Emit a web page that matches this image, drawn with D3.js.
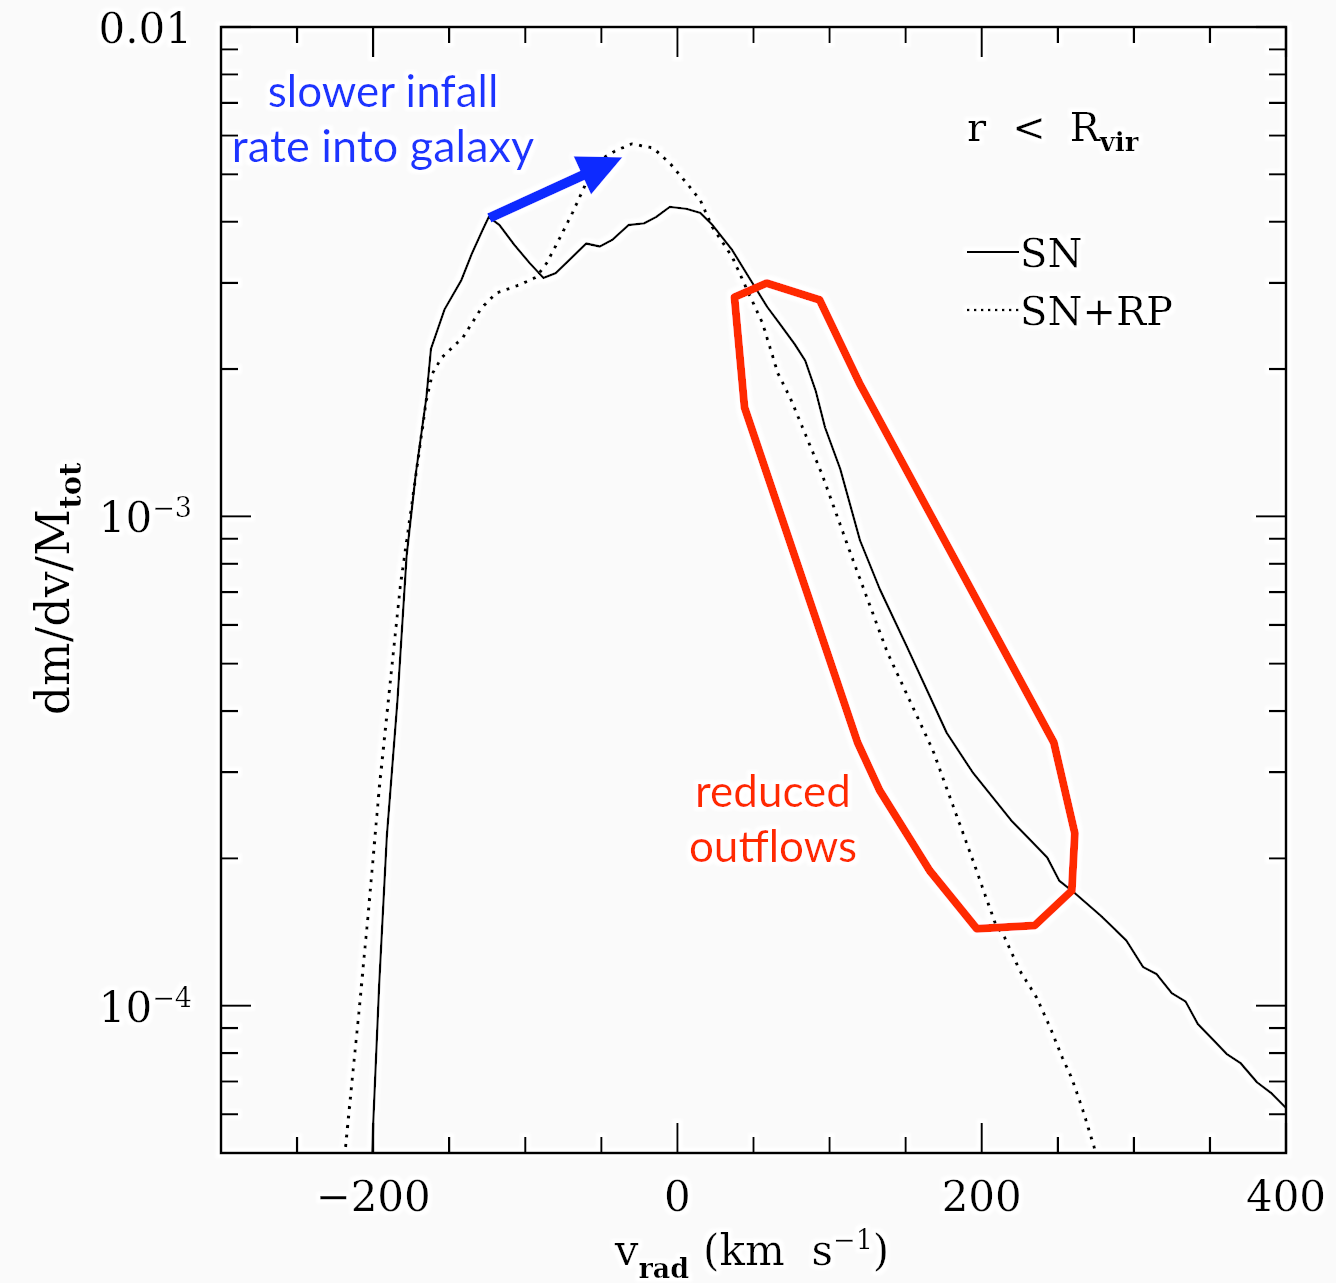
<!DOCTYPE html>
<html>
<head>
<meta charset="utf-8">
<script src="https://cdn.jsdelivr.net/npm/d3@7"></script>
<style>
  html, body { margin: 0; padding: 0; background: #fafafa; }
  svg { display: block; }
</style>
</head>
<body>
<svg id="chart" width="1336" height="1283"></svg>
<script>
// Radial-velocity distribution of gas inside the virial radius.
// SN run (solid line)
const vSN = [-201, -200, -196, -191, -184, -178, -172, -165, -162, -153, -142, -135, -128, -124,
  -117, -107, -97, -88, -80, -69, -60, -51, -43, -32, -22, -14, -5, 6, 15, 23, 36, 47, 59, 67,
  77, 84, 91, 97, 107, 120, 133, 151, 177, 194, 220, 243, 251, 261, 278, 295, 306, 315, 325, 334,
  342, 361, 370, 381, 390, 400];
const dmSN = [4.5e-5, 5.7e-5, 1.11e-4, 2.22e-4, 4.21e-4, 8.3e-4, 1.22e-3, 1.75e-3, 2.2e-3, 2.65e-3,
  3.04e-3, 3.45e-3, 3.85e-3, 4.09e-3, 3.94e-3, 3.58e-3, 3.29e-3, 3.07e-3, 3.14e-3, 3.39e-3,
  3.61e-3, 3.56e-3, 3.67e-3, 3.94e-3, 3.97e-3, 4.09e-3, 4.29e-3, 4.25e-3, 4.17e-3, 3.94e-3,
  3.50e-3, 3.08e-3, 2.68e-3, 2.48e-3, 2.25e-3, 2.08e-3, 1.80e-3, 1.52e-3, 1.25e-3, 8.93e-4, 7.10e-4,
  5.40e-4, 3.61e-4, 3.00e-4, 2.38e-4, 2.01e-4, 1.80e-4, 1.70e-4, 1.53e-4, 1.36e-4, 1.20e-4,
  1.16e-4, 1.06e-4, 1.02e-4, 9.18e-5, 7.97e-5, 7.64e-5, 6.97e-5, 6.64e-5, 6.18e-5];

// SN + RP run (dotted line)
const vRP = [-220, -209, -203, -196, -188, -182, -174, -165, -161, -155, -141, -129, -119, -104,
  -93, -86, -78, -69, -60, -51, -40, -30, -16, -5, 6, 15, 23, 36, 45, 56, 66, 74, 95, 115, 138,
  168, 180, 193, 209, 215, 225, 236, 245, 253, 259, 266, 274, 276];
const dmRP = [4.5e-5, 9.95e-5, 1.57e-4, 2.78e-4, 4.82e-4, 7.26e-4, 1.09e-3, 1.73e-3, 1.96e-3,
  2.11e-3, 2.32e-3, 2.66e-3, 2.86e-3, 2.97e-3, 3.08e-3, 3.29e-3, 3.67e-3, 4.17e-3, 4.80e-3,
  5.35e-3, 5.60e-3, 5.77e-3, 5.66e-3, 5.27e-3, 4.80e-3, 4.43e-3, 3.90e-3, 3.39e-3, 2.94e-3,
  2.48e-3, 1.96e-3, 1.75e-3, 1.22e-3, 8.20e-4, 5.27e-4, 3.32e-4, 2.62e-4, 2.03e-4, 1.47e-4,
  1.38e-4, 1.18e-4, 1.04e-4, 9.02e-5, 7.83e-5, 7.13e-5, 6.18e-5, 5.13e-5, 4.82e-5];

// Axis ticks
const xMajorTicks = [-200, 0, 200, 400];
const xTickLabels = ["\u2212200", "0", "200", "400"];
const xMinorTicks = [-250, -150, -100, -50, 50, 100, 150, 250, 300, 350];
const yMajorTicks = [1e-2, 1e-3, 1e-4];
const yTickBase = ["0.01", "10", "10"];
const yTickExp = ["", "\u22123", "\u22124"];

const legendNames = ["SN", "SN+RP"];

// Annotation: outline around the outflow tail (v, dm/dv/M)
const outflowV = [37.5, 58.6, 93.4, 119.7, 247.4, 261.2, 259.2, 234.9, 196.7, 165.8, 132.9, 118.4, 44.1];
const outflowDm = [2.805e-3, 2.996e-3, 2.77e-3, 1.87e-3, 3.45e-4, 2.25e-4, 1.718e-4, 1.459e-4,
  1.437e-4, 1.888e-4, 2.754e-4, 3.45e-4, 1.67e-3];
// Annotation: arrow from the SN infall peak toward the SN+RP peak
const infallArrowV = [-123.7, -36.2];
const infallArrowDm = [4.07e-3, 5.42e-3];

const W = 1336, H = 1283;
const pL = 221, pR = 1286, pT = 27, pB = 1153;

const svg = d3.select("#chart");
const serif = '"DejaVu Serif", "Liberation Serif", serif';
const sans = 'Lato, "Open Sans", "Noto Sans", sans-serif';

const defs = svg.append("defs");
const halo = defs.append("filter").attr("id", "halo")
  .attr("filterUnits", "userSpaceOnUse")
  .attr("x", 0).attr("y", 0).attr("width", W).attr("height", H);
halo.append("feMorphology").attr("in", "SourceAlpha").attr("operator", "dilate").attr("radius", 4).attr("result", "d");
halo.append("feGaussianBlur").attr("in", "d").attr("stdDeviation", 1.5).attr("result", "b");
halo.append("feFlood").attr("flood-color", "#ffffff").attr("result", "f");
halo.append("feComposite").attr("in", "f").attr("in2", "b").attr("operator", "in").attr("result", "h");
const mrg = halo.append("feMerge");
mrg.append("feMergeNode").attr("in", "h");
mrg.append("feMergeNode").attr("in", "SourceGraphic");

defs.append("clipPath").attr("id", "plotClip")
  .append("rect").attr("x", pL).attr("y", pT).attr("width", pR - pL).attr("height", pB - pT);

const x = d3.scaleLinear().domain([-300, 400]).range([pL, pR]);
const y = d3.scaleLog().domain([5e-5, 1e-2]).range([pB, pT]);

const g = svg.append("g").attr("filter", "url(#halo)");

// Curves
const line = d3.line().x(d => x(d[0])).y(d => y(d[1]));
const curves = g.append("g").attr("clip-path", "url(#plotClip)");
curves.append("path")
  .attr("d", line(d3.zip(vRP, dmRP)))
  .attr("fill", "none").attr("stroke", "#000").attr("stroke-width", 3.2)
  .attr("stroke-dasharray", "3.2 6.3");
curves.append("path")
  .attr("d", line(d3.zip(vSN, dmSN)))
  .attr("fill", "none").attr("stroke", "#000").attr("stroke-width", 2.4)
  .attr("stroke-linejoin", "round");

// Frame
g.append("rect").attr("x", pL).attr("y", pT).attr("width", pR - pL).attr("height", pB - pT)
  .attr("fill", "none").attr("stroke", "#000").attr("stroke-width", 2.8);

// Ticks on all four sides, pointing inward
const ticks = g.append("g").attr("stroke", "#000").attr("stroke-width", 2.4);
const xTickList = xMajorTicks.map(v => [v, 30]).concat(xMinorTicks.map(v => [v, 16]));
xTickList.forEach(([v, len]) => {
  ticks.append("line").attr("x1", x(v)).attr("x2", x(v)).attr("y1", pB).attr("y2", pB - len);
  ticks.append("line").attr("x1", x(v)).attr("x2", x(v)).attr("y1", pT).attr("y2", pT + len);
});
const yTickList = yMajorTicks.map(v => [v, 30]);
[1e-5, 1e-4, 1e-3].forEach(dec => {
  for (let m = 2; m <= 9; m++) {
    const v = m * dec;
    if (v > 5.01e-5 && v < 1e-2) yTickList.push([v, 17]);
  }
});
yTickList.forEach(([v, len]) => {
  ticks.append("line").attr("y1", y(v)).attr("y2", y(v)).attr("x1", pL).attr("x2", pL + len);
  ticks.append("line").attr("y1", y(v)).attr("y2", y(v)).attr("x1", pR).attr("x2", pR - len);
});

// Tick labels
xMajorTicks.forEach((v, i) => {
  g.append("text").attr("x", x(v)).attr("y", pB + 58)
    .attr("text-anchor", "middle").attr("font-family", serif).attr("font-size", 42)
    .attr("fill", "#000").text(xTickLabels[i]);
});
yMajorTicks.forEach((v, i) => {
  const t = g.append("text").attr("x", pL - 29).attr("y", y(v) + 16)
    .attr("text-anchor", "end").attr("font-family", serif).attr("font-size", 42).attr("fill", "#000");
  t.append("tspan").text(yTickBase[i]);
  if (yTickExp[i]) t.append("tspan").attr("font-size", 27).attr("dy", -15).text(yTickExp[i]);
});

// Axis titles
const xt = g.append("text").attr("x", 752).attr("y", 1265)
  .attr("text-anchor", "middle").attr("font-family", serif).attr("font-size", 42).attr("fill", "#000");
xt.append("tspan").text("v");
xt.append("tspan").attr("font-size", 27).attr("font-weight", "bold").attr("dy", 13).text("rad");
xt.append("tspan").attr("dy", -13).attr("dx", 14).text("(km\u00a0\u00a0s");
xt.append("tspan").attr("font-size", 27).attr("dy", -16).text("\u22121");
xt.append("tspan").attr("dy", 16).text(")");

const yt = g.append("text").attr("transform", "translate(69,589) rotate(-90)")
  .attr("text-anchor", "middle").attr("font-family", serif).attr("font-size", 46).attr("fill", "#000");
yt.append("tspan").text("dm/dv/M");
yt.append("tspan").attr("font-size", 29).attr("font-weight", "bold").attr("dy", 12).text("tot");

// Region label
const rl = g.append("text").attr("x", 967).attr("y", 141)
  .attr("font-family", serif).attr("font-size", 40).attr("fill", "#000");
rl.append("tspan").text("r");
rl.append("tspan").attr("dx", 26).text("<");
rl.append("tspan").attr("dx", 24).text("R");
rl.append("tspan").attr("font-size", 26).attr("font-weight", "bold").attr("dy", 10).text("vir");

// Legend
g.append("line").attr("x1", 967).attr("x2", 1019).attr("y1", 252).attr("y2", 252)
  .attr("stroke", "#000").attr("stroke-width", 2.2);
g.append("line").attr("x1", 967).attr("x2", 1020).attr("y1", 310).attr("y2", 310)
  .attr("stroke", "#000").attr("stroke-width", 2.4).attr("stroke-dasharray", "2.5 4.5");
legendNames.forEach((name, i) => {
  g.append("text").attr("x", 1020).attr("y", 267 + i * 58)
    .attr("font-family", serif).attr("font-size", 40).attr("fill", "#000").text(name);
});

// Outflow outline
const closed = d3.line().x(d => x(d[0])).y(d => y(d[1])).curve(d3.curveLinearClosed);
g.append("path").attr("d", closed(d3.zip(outflowV, outflowDm)))
  .attr("fill", "none").attr("stroke", "#ff2a00").attr("stroke-width", 8)
  .attr("stroke-linejoin", "round");

g.append("text").attr("x", 773).attr("y", 807).attr("text-anchor", "middle")
  .attr("font-family", sans).attr("font-size", 44).attr("fill", "#ff2a00").text("reduced");
g.append("text").attr("x", 773).attr("y", 862).attr("text-anchor", "middle")
  .attr("font-family", sans).attr("font-size", 44).attr("fill", "#ff2a00").text("outflows");

// Infall arrow
const ax0 = x(infallArrowV[0]), ay0 = y(infallArrowDm[0]);
const ax1 = x(infallArrowV[1]), ay1 = y(infallArrowDm[1]);
const alen = Math.hypot(ax1 - ax0, ay1 - ay0);
const ux = (ax1 - ax0) / alen, uy = (ay1 - ay0) / alen;
const headLen = 44, headHalf = 21;
const bx = ax1 - ux * headLen, by = ay1 - uy * headLen;
g.append("line").attr("x1", ax0).attr("y1", ay0).attr("x2", bx + ux * 2).attr("y2", by + uy * 2)
  .attr("stroke", "#0c2cff").attr("stroke-width", 10);
g.append("path")
  .attr("d", `M${ax1},${ay1}L${bx - uy * headHalf},${by + ux * headHalf}L${bx + uy * headHalf},${by - ux * headHalf}Z`)
  .attr("fill", "#0c2cff");

g.append("text").attr("x", 383).attr("y", 107).attr("text-anchor", "middle")
  .attr("font-family", sans).attr("font-size", 44).attr("fill", "#1a35ff").text("slower infall");
g.append("text").attr("x", 383).attr("y", 162).attr("text-anchor", "middle")
  .attr("font-family", sans).attr("font-size", 45).attr("fill", "#1a35ff").text("rate into galaxy");
</script>
</body>
</html>
